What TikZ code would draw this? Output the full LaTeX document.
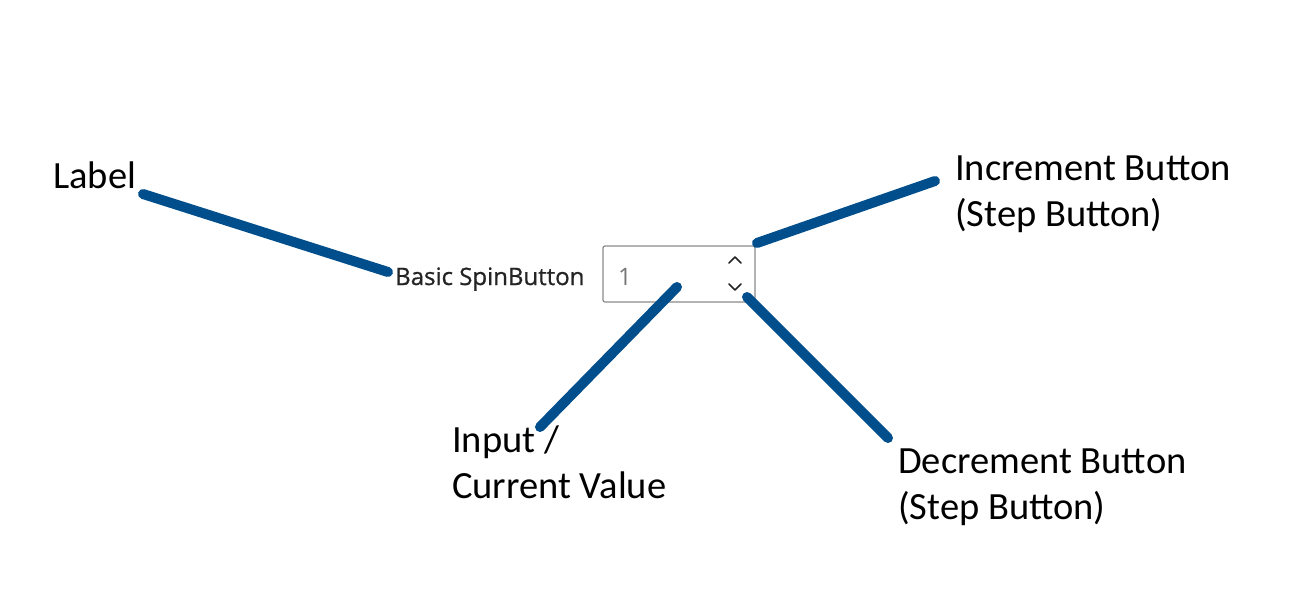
\documentclass[tikz,border=0pt]{standalone}
\usepackage{fontspec}
\setmainfont{Carlito}
\newfontfamily\uifont{Open Sans}
\newfontfamily\uisemi{Open Sans}[FakeBold=0.8]
\usepackage{tikz}
\usepackage{color}

\definecolor{callout}{RGB}{0,78,140}
\definecolor{boxgray}{RGB}{138,138,138}
\definecolor{uitext}{RGB}{36,36,36}

\begin{document}
\begin{tikzpicture}[x=1pt,y=-1pt,
    callout/.style={draw=callout,line width=10pt,line cap=round},
    caption/.style={inner sep=0pt,font=\fontsize{38.5}{46}\selectfont,align=left}]
  \useasboundingbox (0,0) rectangle (1312,606);
  % the spin button
  \node[inner sep=0pt,anchor=base west,text=uitext,font=\uisemi\fontsize{24}{26}\selectfont] (lbl) at (395,285) {Basic SpinButton};
  \draw[boxgray,line width=1.2pt,rounded corners=2pt] (603,246) rectangle (755,302);
  \node[inner sep=0pt,anchor=base west,text=boxgray!85!black,font=\uifont\fontsize{24}{26}\selectfont] (val) at (618,285) {1};
  \draw[uitext,line width=1.5pt,line cap=round,line join=round] (729,263) -- (735,257) -- (741,263);
  \draw[uitext,line width=1.5pt,line cap=round,line join=round] (729,284) -- (735,290) -- (741,284);
  % captions
  \node[caption,anchor=base west] (label) at (53,188) {Label};
  \node[caption,anchor=base west] (inc) at (955,226) {Increment Button\\(Step Button)};
  \node[caption,anchor=base west] (input) at (452,498) {Input /\\Current Value};
  \node[caption,anchor=base west] (dec) at (898,519) {Decrement Button\\(Step Button)};
  % callout lines
  \coordinate (c1) at (143,194);
  \coordinate (c2) at (388,272);
  \coordinate (c3) at (935,181);
  \coordinate (c4) at (757,243);
  \coordinate (c5) at (540,427);
  \coordinate (c6) at (677,287);
  \coordinate (c7) at (888,438);
  \coordinate (c8) at (747,297);
  \draw[callout] (c1) -- (c2);
  \draw[callout] (c3) -- (c4);
  \draw[callout] (c5) -- (c6);
  \draw[callout] (c7) -- (c8);
\end{tikzpicture}
\end{document}
